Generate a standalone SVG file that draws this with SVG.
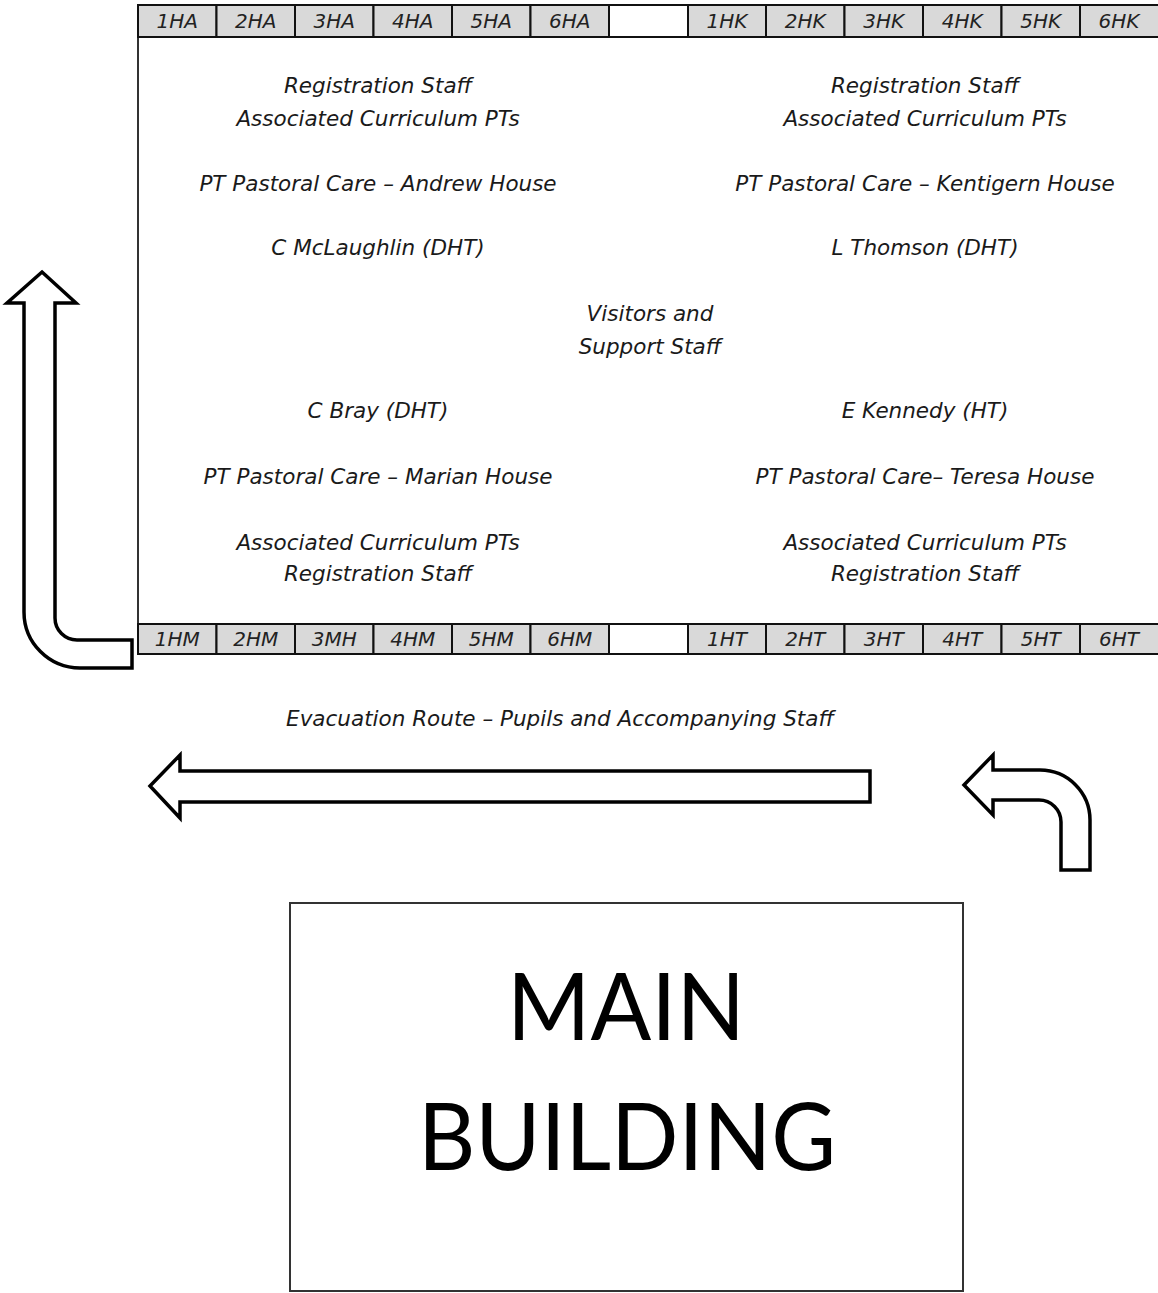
<svg xmlns="http://www.w3.org/2000/svg" width="1158" height="1293" viewBox="0 0 1158 1293">
<style>
.lbl{font-family:"DejaVu Sans","Liberation Sans",sans-serif;font-style:italic;font-size:21.5px;fill:#1a1a1a;text-anchor:middle}
.tab{fill:#d9d9d9;stroke:#111;stroke-width:2}
.blank{fill:#fff;stroke:#111;stroke-width:2}
.tl{font-family:"DejaVu Sans","Liberation Sans",sans-serif;font-style:italic;font-size:20px;fill:#222;text-anchor:middle}
.arrow{fill:#fff;stroke:#000;stroke-width:3.5;stroke-linejoin:miter}
.big{font-family:Lato,"Liberation Sans",sans-serif;font-size:94px;fill:#000;text-anchor:middle}
</style>
<rect width="1158" height="1293" fill="#fff"/>

<g id="hall">
<rect x="138" y="5" width="1022" height="649" fill="#fff" stroke="#333" stroke-width="2"/>
</g>

<g id="top-tabs">
<rect class="tab" x="138" y="5" width="78.5" height="32"/><text class="tl" x="177.2" y="28">1HA</text>
<rect class="tab" x="216.5" y="5" width="78.5" height="32"/><text class="tl" x="255.7" y="28">2HA</text>
<rect class="tab" x="295" y="5" width="78.5" height="32"/><text class="tl" x="334.2" y="28">3HA</text>
<rect class="tab" x="373.5" y="5" width="78.5" height="32"/><text class="tl" x="412.7" y="28">4HA</text>
<rect class="tab" x="452" y="5" width="78.5" height="32"/><text class="tl" x="491.2" y="28">5HA</text>
<rect class="tab" x="530.5" y="5" width="78.5" height="32"/><text class="tl" x="569.7" y="28">6HA</text>
<rect class="blank" x="609" y="5" width="79" height="32"/>
<rect class="tab" x="688" y="5" width="78" height="32"/><text class="tl" x="727" y="28">1HK</text>
<rect class="tab" x="766" y="5" width="78.5" height="32"/><text class="tl" x="805.2" y="28">2HK</text>
<rect class="tab" x="844.5" y="5" width="78.5" height="32"/><text class="tl" x="883.7" y="28">3HK</text>
<rect class="tab" x="923" y="5" width="78.5" height="32"/><text class="tl" x="962.2" y="28">4HK</text>
<rect class="tab" x="1001.5" y="5" width="78.5" height="32"/><text class="tl" x="1040.7" y="28">5HK</text>
<rect class="tab" x="1080" y="5" width="80" height="32"/><text class="tl" x="1119" y="28">6HK</text>
</g>

<g id="bottom-tabs">
<rect class="tab" x="138" y="624" width="78.5" height="30"/><text class="tl" x="177.2" y="646">1HM</text>
<rect class="tab" x="216.5" y="624" width="78.5" height="30"/><text class="tl" x="255.7" y="646">2HM</text>
<rect class="tab" x="295" y="624" width="78.5" height="30"/><text class="tl" x="334.2" y="646">3MH</text>
<rect class="tab" x="373.5" y="624" width="78.5" height="30"/><text class="tl" x="412.7" y="646">4HM</text>
<rect class="tab" x="452" y="624" width="78.5" height="30"/><text class="tl" x="491.2" y="646">5HM</text>
<rect class="tab" x="530.5" y="624" width="78.5" height="30"/><text class="tl" x="569.7" y="646">6HM</text>
<rect class="blank" x="609" y="624" width="79" height="30"/>
<rect class="tab" x="688" y="624" width="78" height="30"/><text class="tl" x="727" y="646">1HT</text>
<rect class="tab" x="766" y="624" width="78.5" height="30"/><text class="tl" x="805.2" y="646">2HT</text>
<rect class="tab" x="844.5" y="624" width="78.5" height="30"/><text class="tl" x="883.7" y="646">3HT</text>
<rect class="tab" x="923" y="624" width="78.5" height="30"/><text class="tl" x="962.2" y="646">4HT</text>
<rect class="tab" x="1001.5" y="624" width="78.5" height="30"/><text class="tl" x="1040.7" y="646">5HT</text>
<rect class="tab" x="1080" y="624" width="80" height="30"/><text class="tl" x="1119" y="646">6HT</text>
</g>

<g id="andrew-house">
<text class="lbl" x="378" y="93">Registration Staff</text>
<text class="lbl" x="378" y="126">Associated Curriculum PTs</text>
<text class="lbl" x="378" y="191">PT Pastoral Care – Andrew House</text>
<text class="lbl" x="378" y="255">C McLaughlin (DHT)</text>
</g>

<g id="kentigern-house">
<text class="lbl" x="925" y="93">Registration Staff</text>
<text class="lbl" x="925" y="126">Associated Curriculum PTs</text>
<text class="lbl" x="925" y="191">PT Pastoral Care – Kentigern House</text>
<text class="lbl" x="925" y="255">L Thomson (DHT)</text>
</g>

<g id="visitors">
<text class="lbl" x="650" y="321">Visitors and</text>
<text class="lbl" x="650" y="354">Support Staff</text>
</g>

<g id="marian-house">
<text class="lbl" x="378" y="418">C Bray (DHT)</text>
<text class="lbl" x="378" y="484">PT Pastoral Care – Marian House</text>
<text class="lbl" x="378" y="550">Associated Curriculum PTs</text>
<text class="lbl" x="378" y="581">Registration Staff</text>
</g>

<g id="teresa-house">
<text class="lbl" x="925" y="418">E Kennedy (HT)</text>
<text class="lbl" x="925" y="484">PT Pastoral Care– Teresa House</text>
<text class="lbl" x="925" y="550">Associated Curriculum PTs</text>
<text class="lbl" x="925" y="581">Registration Staff</text>
</g>

<g id="evacuation-label">
<text class="lbl" x="560" y="726">Evacuation Route – Pupils and Accompanying Staff</text>
</g>

<g id="connectors">
<path class="arrow" d="M42,272 L76,303 L55,303 L55,618 A22,22 0 0 0 77,640 L132,640 L132,668 L80,668 A56,56 0 0 1 24,612 L24,303 L7,303 Z"/>
<path class="arrow" d="M150,786 L180,755 L180,771 L870,771 L870,802 L180,802 L180,818 Z"/>
<path class="arrow" d="M964,785 L993,755 L993,770 L1040,770 A50,50 0 0 1 1090,820 L1090,870 L1061,870 L1061,822 A22,22 0 0 0 1039,800 L993,800 L993,815 Z"/>
</g>

<g id="main-building">
<rect x="290" y="903" width="673" height="388" fill="#fff" stroke="#333" stroke-width="2"/>
<text class="big" x="626" y="1040" textLength="238" lengthAdjust="spacingAndGlyphs">MAIN</text>
<text class="big" x="627" y="1170" textLength="418" lengthAdjust="spacingAndGlyphs">BUILDING</text>
</g>
</svg>
